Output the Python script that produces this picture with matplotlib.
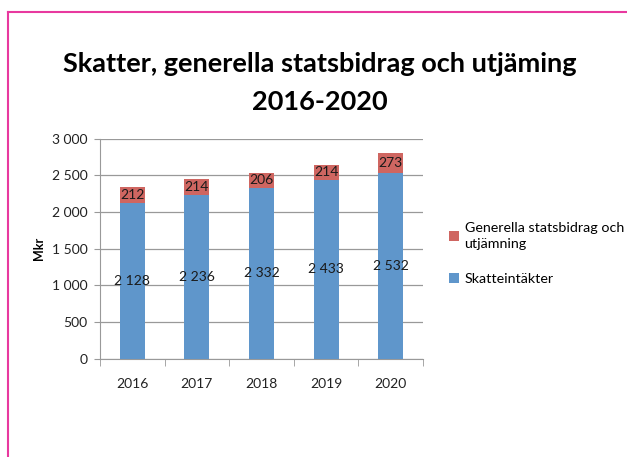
import matplotlib.pyplot as plt
from matplotlib.lines import Line2D
from matplotlib.ticker import FuncFormatter

years = ['2016', '2017', '2018', '2019', '2020']
skatter = [2128, 2236, 2332, 2433, 2532]
bidrag = [212, 214, 206, 214, 273]

blue = '#5F96CB'
red = '#CF6661'

plt.rcParams['font.family'] = ['Lato', 'DejaVu Sans']

fig = plt.figure(figsize=(6.27, 4.57), dpi=100)
ax = fig.add_axes([100/627, 1 - 358.7/457, 323/627, 220/457])

x = list(range(len(years)))
b1 = ax.bar(x, skatter, width=0.39, color=blue, label='Skatteintäkter', zorder=3)
b2 = ax.bar(x, bidrag, width=0.39, bottom=skatter, color=red,
            label='Generella statsbidrag och\nutjämning', zorder=3)

def fmt(v):
    return f'{int(v):,}'.replace(',', ' ')

for i in x:
    ax.text(i, skatter[i] / 2, fmt(skatter[i]), ha='center', va='center',
            fontsize=10, color='#1a1a1a', zorder=4)
    ax.text(i, skatter[i] + bidrag[i] / 2, fmt(bidrag[i]), ha='center', va='center',
            fontsize=10, color='#1a1a1a', zorder=4)

ax.set_xlim(-0.5, 4.5)
ax.set_ylim(0, 3000)
ax.set_yticks(range(0, 3001, 500))
ax.yaxis.set_major_formatter(FuncFormatter(lambda v, p: fmt(v)))
ax.set_xticks(x)
ax.set_xticklabels(years)
ax.set_xticks([i - 0.5 for i in range(6)], minor=True)
ax.tick_params(axis='x', which='major', length=0, pad=14, labelsize=10, labelcolor='#222222')
ax.tick_params(axis='x', which='minor', length=5, color='#999999', direction='out')
ax.tick_params(axis='y', length=4, color='#999999', labelsize=10, labelcolor='#222222', pad=5)
ax.grid(axis='y', color='#999999', linewidth=0.9, zorder=0)
for s in ['top', 'right']:
    ax.spines[s].set_visible(False)
for s in ['left', 'bottom']:
    ax.spines[s].set_color('#999999')

ax.set_ylabel('Mkr', fontsize=9, fontweight='bold', labelpad=5)

fig.text(320/627, 1 - 83/457, 'Skatter, generella statsbidrag och utjäming\n2016-2020',
         ha='center', va='center', fontsize=19.5, fontweight='bold', linespacing=1.7)

handles = [b2, b1]
leg = fig.legend(handles, [h.get_label() for h in handles], loc='upper left',
                 bbox_to_anchor=(436/627, 1 - 209/457), frameon=False, fontsize=10.3,
                 handlelength=0.7, handleheight=0.7, handletextpad=0.4, labelspacing=1.6)
for t in leg.get_texts():
    t.set_linespacing(1.45)

pink = '#E8399F'
fig.add_artist(Line2D([8/627, 8/627], [0, 1 - 12/457], color=pink, linewidth=1.5))
fig.add_artist(Line2D([8/627, 1], [1 - 12/457, 1 - 12/457], color=pink, linewidth=1.5))

fig.savefig('out.png', dpi=100)
